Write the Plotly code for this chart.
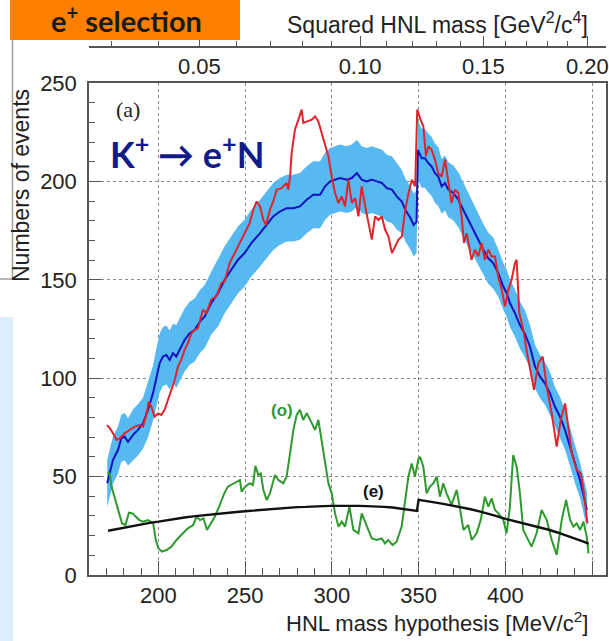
import numpy as np
import plotly.graph_objects as go

# ---------------- data ----------------
# expected background (blue) with its +-1 sigma band (light blue)
mass_exp = [170.5, 172, 173.8, 176.7, 178.6, 180.5, 182.5, 185.4, 188.2, 191.1,
            194, 196.9, 198.8, 200.7, 202.6, 204.6, 206.5, 208.4, 210.3, 212.2,
            215.1, 218, 220.9, 223.7, 226.7, 230.5, 234.4, 238.2, 242, 245.9, 249.7,
            253.6, 258.6, 262.4, 266.2, 270, 273.9, 277.7, 281.6, 285.5, 289.3, 293.2, 296.1, 299,
            301.8, 304.7, 308.6, 311.5, 314.4, 317.2, 320.1, 323, 325.9, 328.8, 331.7, 334.6,
            337.4, 340.3, 342.3, 345.2, 347.1, 348.8,
            349.6, 351.7, 353.6, 355.6, 357.5, 359.4, 361.3, 363.3, 365.2, 367.1, 370, 372.9,
            375.7, 378.6,
            381.5, 384.4, 387.3, 390.1, 393, 395.9, 398.8, 400.7, 402.6, 405.5, 408.4, 411.3,
            414.2, 417.1, 420, 422.8, 425.7, 428.6, 431.5, 434.4, 437.3, 440.1, 443, 445.3, 447]
n_exp = [46.6, 51.6, 58.4, 63.5, 69.4, 70.3, 67.7, 71.2, 73.7, 77.1,
         83.9, 92.4, 100, 107.6, 111, 111.8, 109.3, 112.7, 111, 114.4,
         119.4, 122.8, 124.5, 128.5, 131.4, 138.2, 143.3, 150, 155.1, 160.2, 163.6,
         168.7, 173.7, 177.9, 182.2, 184.7, 186.4, 186.4, 187.3, 190.7, 193.2, 193.2, 197.5, 200,
         200.9, 201.7, 200.9, 201.7, 204.2, 200.9, 200, 200.9, 200, 199.2, 196.6, 195.8,
         192.4, 189.8, 185.6, 181.5, 177.9, 179.5,
         216, 211.8, 211.8, 209.3, 207.6, 204.2, 202.5, 197.5, 199.2, 195.8, 194.1, 190.7,
         185.6, 180.4,
         175.4, 170.4, 165.3, 161, 158.5, 153.4, 146.6, 143.3, 138.2, 133.1, 127, 122.5,
         116, 105.9, 100.8, 97.4, 92.3, 85.5, 80.4, 73.7, 65.2, 56.7, 48.3, 39.8, 33]
err_exp = [12, 12, 12, 12, 12, 12, 12, 13, 13, 13,
           14, 14, 15, 15, 15, 15, 15, 15, 16, 16,
           16, 16, 16, 16, 16, 16, 17, 17, 17, 17, 17,
           17, 17, 17, 17, 17, 17, 17, 17, 17, 17, 17, 17, 17,
           17, 17, 17, 17, 17, 17, 17, 17, 17, 17, 17, 17,
           17, 16, 16, 16, 16, 16,
           15, 15, 15, 15, 15, 15, 15, 14, 14, 14, 14, 14,
           14, 14,
           13, 13, 13, 13, 13, 12, 12, 12, 12, 12, 12, 12,
           11, 11, 11, 11, 11, 10, 10, 10, 10, 10, 9, 9, 9]

# observed data (red)
mass_obs = [170.4, 172, 173.8, 175.9, 177.8, 180.5, 183.4, 186.3, 189.2, 191.1,
            193, 194.4, 195.9, 197.8, 199.8, 201.7, 203.6, 205.5, 207.4, 209.4,
            211.3, 213.2, 215.1, 217, 219, 220.9, 222.8, 225.7, 227.6, 230.5,
            233.4, 236.3, 238.2, 241.1, 244, 246.9, 249.7, 252.6, 254.7, 256.6,
            258.6, 260.5, 262, 264.3, 266.2, 268.2, 271, 273.9, 274.9, 275.9,
            276.8, 278.7, 280.7, 282.6, 283.5, 285.5, 288.4, 290.3, 292.2, 294.1,
            296.1, 298, 299.9, 301.8, 303.8, 305.7, 307.6, 309.5, 311.5, 313.4,
            315.3, 317.2, 319.2, 321.1, 323, 324.9, 326.9, 328.8, 330.7, 332.6,
            334.6, 336.5, 338.4, 340.3, 342.3, 344.2, 346.1, 348, 349.2, 351.1,
            352.7, 354.2, 355.6, 357.5, 359.4, 361.3, 363.3, 365.2, 367.1, 369,
            370.9, 372.9, 374.8, 376.1, 377.7, 380.5, 382.5, 384.4, 386.3, 388.2,
            390.2, 392.1, 394, 395.9, 397.9, 399.8, 401.7, 403.6, 405.5, 406.5,
            408, 410.3, 412.2, 414.2, 416.5, 419, 421.5, 423.8, 426.7, 429.6,
            431.9, 434.4, 436.3, 438.3, 441.1, 443.5, 445.3, 447.3]
n_obs = [76.2, 74.6, 72, 68.6, 69.4, 72, 73.7, 75.4, 76.2, 75.4,
         81.3, 88.1, 85.5, 80.4, 82.1, 81.3, 83.9, 88.9, 94, 99.1,
         105.9, 109.3, 114.4, 117.8, 122.8, 124.5, 125.5, 134.8, 133.1, 139.9,
         141.6, 148.4, 149.2, 158.5, 163.6, 168.7, 173.7, 178.8, 185.6, 189.8,
         187.3, 180.4, 177.9, 185.6, 189.8, 195.8, 196.6, 199.2, 195.8, 202.5,
         214.4, 226.3, 231.4, 236.5, 229.7, 230.5, 231.4, 233.1, 230.5, 224.6,
         218.7, 212.8, 202.5, 194.1, 189, 192.4, 187.3, 200.9, 189, 191.6,
         182.2, 197.5, 187.3, 178.8, 170.4, 182.2, 180.4, 182.2, 175.4, 172,
         163.6, 167, 170.4, 172, 185.6, 194.1, 200.9, 197.5, 236.5, 231.4,
         228, 212.8, 217.8, 216.1, 211.1, 204.2, 202.5, 211.1, 199.2, 189,
         195.8, 194.1, 182.2, 168.7, 173.7, 160.2, 165.3, 161.9, 168.7, 160.2,
         165.3, 161.9, 161.9, 151.7, 144.9, 136.5, 144.9, 150, 158.5, 160.2,
         133.1, 124.7, 114.4, 104.2, 94.1, 107.6, 111, 95.7, 82.1, 65.2,
         78.8, 87.2, 75.4, 61.8, 53.4, 51.7, 41.5, 26.2]

# curve (o) (green)
mass_o = [171, 172, 173, 177, 179, 181, 183, 185, 187, 189, 191, 194, 197, 198.5,
          200, 202, 204.7, 207.5, 210.4, 214.2, 217, 220, 222, 224, 226, 228, 230,
          232.5, 235, 238, 240, 244, 247, 248, 250, 252.8, 254.5, 255.9, 257.6, 259,
          260.5, 262.4, 264.3, 267.2, 269.1, 272, 273.9, 275.9, 277.8, 279.7, 281.6,
          283.5, 285.5, 288.4, 290.3, 292.2, 294.1, 296, 298, 299.9, 301.8, 303.8,
          305.7, 307.6, 310.1, 312.4, 315.3, 317.2, 320.1, 323, 325.9, 328.7, 330.6,
          332.5, 335, 337.3, 340.2, 342.1, 344.1, 346, 347.9, 349.8, 350.8, 352.7,
          354.6, 356.5, 358.5, 360.4, 362.3, 364.2, 366.1, 369, 371.9, 373.8, 375.8,
          378.6, 380.6, 383.4, 385.8, 388.2, 390.2, 392.1, 394, 396, 398.8, 400.7,
          402.6, 404.5, 406.5, 408.4, 410.3, 412.2, 415.1, 418, 420.9, 423.8, 426.7,
          429.6, 432.5, 435, 437.3, 439.2, 441.1, 443.1, 445, 446.9, 447.9]
n_o = [52.5, 51, 44.9, 32.2, 26.3, 25.4, 31.7, 31.3, 29.6, 27.9, 27.1, 27.9, 26.2, 17.8,
       13.6, 11.9, 12.7, 14.4, 17.8, 21.2, 23.7, 25.4, 29.6, 27.9, 28.8, 22.9, 26.2,
       29.6, 34.7, 41.5, 44.9, 46.6, 48.3, 42.3, 44.9, 46.6, 45.7, 55.5, 50.8, 51.6,
       43.2, 38.1, 41.5, 50.8, 48.3, 46.6, 50, 61.9, 73.7, 81.3, 83.9,
       78.8, 82.2, 77.2, 73.7, 78.8, 68.7, 58.6, 46.6, 41.5, 31.3, 24.6,
       27.1, 24.6, 34.7, 22.9, 21.2, 31.3, 24.6, 18.6, 17.8, 18.6, 16.1,
       17.8, 15.2, 16.9, 24.6, 38.1, 50, 56.7, 50, 58.6, 60.1, 55,
       41.5, 44.9, 46.6, 50, 39.8, 46.6, 41.5, 35.6, 43.2, 33.9, 22.9,
       25.4, 17.8, 21.2, 28, 39.8, 34.7, 39, 33, 31.3, 28, 21.2,
       34.7, 60.9, 55, 41.5, 22.9, 19.5, 14.4, 21.2, 33, 28, 17.8,
       10.2, 28, 38.1, 28, 24.6, 26.2, 22.9, 27.1, 19.5, 11]

# curve (e) (black)
mass_e = [171, 175, 180, 185, 190, 195, 200, 205, 210, 215, 220, 225, 230, 235, 240,
          245, 250, 255, 260, 265, 270, 275, 280, 285, 290, 295, 300, 305, 310, 315,
          320, 325, 330, 335, 340, 345, 349, 350, 355, 360, 365, 370, 375, 380, 385,
          390, 395, 400, 405, 410, 415, 420, 425, 430, 435, 440, 445, 448]
n_e = [22.5, 23.2, 24.1, 24.8, 25.6, 26.5, 27.1, 27.9, 28.6, 29.2, 29.8, 30.3, 30.8,
       31.3, 31.7, 32.0, 32.4, 32.8, 33.1, 33.5, 33.8, 34.2, 34.5, 34.6, 34.9, 35.0,
       35.1, 35.2, 35.3, 35.1, 35.0, 34.9, 34.6, 34.3, 33.8, 33.3, 32.6, 38.2, 37.6,
       36.8, 36.0, 35.2, 34.3, 33.4, 32.3, 31.2, 29.9, 28.5, 27.4, 26.3, 25.3, 24.2,
       23.0, 21.6, 20.2, 18.7, 17.0, 16.0]

# axis ticks
x_major = [200, 250, 300, 350, 400, 450]
y_major = [0, 50, 100, 150, 200, 250]
sq_major = [0.05, 0.10, 0.15, 0.20]
sq_major_text = ["0.05", "0.10", "0.15", "0.20"]
sq_minor = [0.03, 0.04, 0.06, 0.07, 0.08, 0.09, 0.11, 0.12, 0.13, 0.14,
            0.16, 0.17, 0.18, 0.19]

# ---------------- geometry helpers ----------------
W, H = 609, 641
ML, MR, MT, MB = 89, 3, 0, 66
PW, PH = W - ML - MR, H - MT - MB


def fx(p):
    return (p - ML) / PW


def fy(p):
    return (H - MB - p) / PH


FONT = "Liberation Sans, Arial, Helvetica, sans-serif"
AX = "#555555"

lower = [v - e for v, e in zip(n_exp, err_exp)]
upper = [v + e for v, e in zip(n_exp, err_exp)]

fig = go.Figure()
fig.add_trace(go.Scatter(x=mass_exp, y=upper, mode="lines", line=dict(width=0),
                         showlegend=False, hoverinfo="skip"))
fig.add_trace(go.Scatter(x=mass_exp, y=lower, mode="lines", line=dict(width=0),
                         fill="tonexty", fillcolor="#57B9F2", showlegend=False,
                         hoverinfo="skip"))
fig.add_trace(go.Scatter(x=mass_exp, y=n_exp, mode="lines",
                         line=dict(color="#1212C0", width=2), showlegend=False))
fig.add_trace(go.Scatter(x=mass_obs, y=n_obs, mode="lines",
                         line=dict(color="#E0242C", width=2), showlegend=False))
fig.add_trace(go.Scatter(x=mass_o, y=n_o, mode="lines",
                         line=dict(color="#2E9A2E", width=2), showlegend=False))
fig.add_trace(go.Scatter(x=mass_e, y=n_e, mode="lines",
                         line=dict(color="#111111", width=2.4), showlegend=False))
# empty traces to attach the top axes
fig.add_trace(go.Scatter(x=[], y=[], xaxis="x2", yaxis="y", showlegend=False))
fig.add_trace(go.Scatter(x=[], y=[], xaxis="x3", yaxis="y", showlegend=False))

xr = [160, 458]
ydom_top = fy(83)
top_pos = fy(47)

fig.update_layout(
    width=W, height=H,
    margin=dict(l=ML, r=MR, t=MT, b=MB, autoexpand=False),
    paper_bgcolor="white", plot_bgcolor="white",
    font=dict(family=FONT, color="#222222"),
    xaxis=dict(range=xr, tickvals=x_major, ticks="inside", ticklen=14, tickwidth=1.3,
               tickcolor=AX, showline=True, linecolor=AX, linewidth=1.5, mirror=True,
               showgrid=True, gridcolor="#8a8a8a", griddash="dot", gridwidth=1,
               zeroline=False, automargin=False,
               tickfont=dict(size=22, family=FONT, color="#222"),
               minor=dict(dtick=10, tick0=160, ticks="inside", ticklen=7,
                          tickcolor=AX, tickwidth=1.2, showgrid=False)),
    yaxis=dict(range=[0, 250], domain=[0, ydom_top], tickvals=y_major, ticks="inside",
               ticklen=12, tickwidth=1.3, tickcolor=AX, showline=True, linecolor=AX,
               linewidth=1.5, mirror=True, showgrid=True, gridcolor="#8a8a8a",
               griddash="dot", gridwidth=1, zeroline=False, automargin=False,
               tickfont=dict(size=22, family=FONT, color="#222"),
               ticklabelstandoff=6,
               minor=dict(dtick=10, ticks="inside", ticklen=6, tickcolor=AX,
                          tickwidth=1.2, showgrid=False)),
    # squared-mass scale drawn as a free axis above the frame (ticks up, labels below)
    xaxis2=dict(range=xr, overlaying="x", side="bottom", anchor="free", position=top_pos,
                tickvals=[1000 * np.sqrt(s) for s in sq_major], ticktext=sq_major_text,
                ticks="inside", ticklen=10, tickwidth=1.3, tickcolor=AX,
                showline=True, linecolor=AX, linewidth=1.5, showgrid=False,
                zeroline=False, automargin=False,
                tickfont=dict(size=22, family=FONT, color="#222")),
    xaxis3=dict(range=xr, overlaying="x", side="bottom", anchor="free", position=top_pos,
                tickvals=[1000 * np.sqrt(s) for s in sq_minor], showticklabels=False,
                ticks="inside", ticklen=6, tickwidth=1.2, tickcolor=AX,
                showline=False, showgrid=False, zeroline=False, automargin=False),
)

# decorative shapes around the plot (page elements)
fig.add_shape(type="rect", xref="paper", yref="paper", x0=fx(10), x1=fx(240),
              y0=fy(40), y1=fy(0), fillcolor="#FF8000", line=dict(width=0), layer="above")
fig.add_shape(type="rect", xref="paper", yref="paper", x0=fx(0), x1=fx(13),
              y0=fy(641), y1=fy(317), fillcolor="#DDEEFC", line=dict(width=0))
fig.add_shape(type="path", xref="paper", yref="paper",
              path=f"M {fx(12.5)} {fy(40)} L {fx(12.5)} {fy(279)} L {fx(0)} {fy(279)}",
              line=dict(color="#A0A0A0", width=1.5))

ann = [
    dict(text="e<sup>+</sup> selection", x=fx(126), y=fy(19), xanchor="center",
         yanchor="middle", font=dict(size=29, family="Lato, Open Sans, sans-serif",
                                     color="#1a1a1a", weight="bold")),
    dict(text="Squared HNL mass [GeV<sup>2</sup>/c<sup>4</sup>]", x=fx(590), y=fy(23),
         xanchor="right", yanchor="middle", font=dict(size=23, family=FONT, color="#222")),
    dict(text="HNL mass hypothesis [MeV/c<sup>2</sup>]", x=fx(590), y=fy(622),
         xanchor="right", yanchor="middle", font=dict(size=22, family=FONT, color="#222")),
    dict(text="Numbers of events", x=fx(21), y=fy(186), xanchor="center",
         yanchor="middle", textangle=-90, font=dict(size=23, family=FONT, color="#222")),
    dict(text="(a)", x=fx(128), y=fy(109), xanchor="center", yanchor="middle",
         font=dict(size=22, family="Liberation Serif, DejaVu Serif, serif", color="#222")),
    dict(text="K<sup>+</sup> \u2192 e<sup>+</sup>N", x=fx(108), y=fy(152), xanchor="left",
         yanchor="middle", font=dict(size=36, family="Lato, Open Sans, sans-serif",
                                     color="#111C88", weight="bold")),
    dict(text="(o)", x=fx(282), y=fy(410), xanchor="center", yanchor="middle",
         font=dict(size=17, family=FONT, color="#2E9A2E", weight="bold")),
    dict(text="(e)", x=fx(373), y=fy(491), xanchor="center", yanchor="middle",
         font=dict(size=17, family=FONT, color="#111", weight="bold")),
]
for a in ann:
    fig.add_annotation(xref="paper", yref="paper", showarrow=False, **a)

fig.write_html("out.html")
